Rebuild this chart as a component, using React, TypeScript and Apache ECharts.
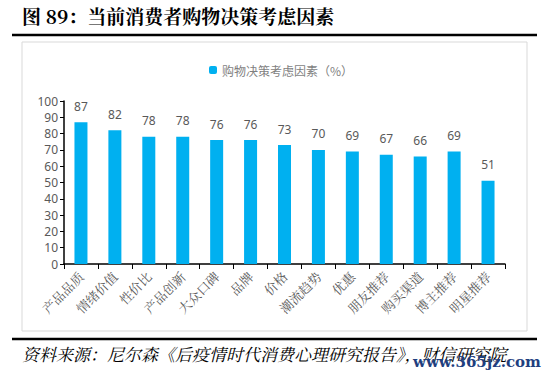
import React, { useEffect, useRef } from "react";
import * as echarts from "echarts";

const categories = ["产品品质", "情绪价值", "性价比", "产品创新", "大众口碑", "品牌", "价格", "潮流趋势", "优惠", "朋友推荐", "购买渠道", "博主推荐", "明星推荐"];
const values = [87, 82, 78, 78, 76, 76, 73, 70, 69, 67, 66, 69, 51];
const seriesName = "购物决策考虑因素（%）";
const titleText = "图 89：当前消费者购物决策考虑因素";
const sourceText = "资料来源：尼尔森《后疫情时代消费心理研究报告》，财信研究院";
const watermark = "www.365jz.com";

export default function App() {
  const ref = useRef<HTMLDivElement>(null);
  useEffect(() => {
    const chart = echarts.init(ref.current!, null, { renderer: "svg" });
    chart.setOption({
      animation: false,
      backgroundColor: "#ffffff",
      legend: {
        data: [seriesName],
        left: 204,
        top: 59,
        itemWidth: 8,
        itemHeight: 8,
        itemGap: 4,
        textStyle: { color: "#7f7f7f", fontSize: 12, fontFamily: "Noto Sans CJK SC" },
      },
      grid: { left: 64, right: 45, top: 101, bottom: 112 },
      xAxis: {
        type: "category",
        data: categories,
        axisLine: { lineStyle: { color: "#000", width: 1.5 } },
        axisTick: { show: true, length: 5, lineStyle: { color: "#000" } },
        axisLabel: { rotate: 45, color: "#595959", fontSize: 13, fontFamily: "Noto Serif CJK SC, Noto Sans CJK SC", margin: 10, interval: 0 },
      },
      yAxis: {
        type: "value",
        min: 0,
        max: 100,
        interval: 10,
        axisLine: { show: true, lineStyle: { color: "#000", width: 1.5 } },
        axisTick: { show: true, length: 4, lineStyle: { color: "#000" } },
        splitLine: { show: false },
        axisLabel: { color: "#595959", fontSize: 12, fontFamily: "Noto Sans", margin: 6 },
      },
      series: [
        {
          name: seriesName,
          type: "bar",
          data: values,
          barWidth: 13,
          itemStyle: { color: "#00B0F0" },
          label: { show: true, position: "top", color: "#595959", fontSize: 12, fontFamily: "Noto Sans", distance: 10 },
        },
      ],
      graphic: [
        { type: "text", left: 22, top: 6, style: { text: titleText, font: "bold 19px 'Noto Serif CJK SC', 'Noto Sans CJK SC', serif", fill: "#000" } },
        { type: "line", shape: { x1: 12, y1: 35, x2: 537, y2: 35 }, style: { stroke: "#000", lineWidth: 2.5 } },
        { type: "rect", shape: { x: 22, y: 42, width: 505, height: 289 }, style: { fill: "none", stroke: "#d9d9d9", lineWidth: 1 } },
        { type: "line", shape: { x1: 12, y1: 339, x2: 537, y2: 339 }, style: { stroke: "#000", lineWidth: 2.5 } },
        { type: "text", left: 22, top: 345, style: { text: sourceText, font: "italic 17px 'Noto Serif CJK SC', 'Noto Sans CJK SC', serif", fill: "#000" } },
        { type: "text", left: 413, top: 354, style: { text: watermark, font: "bold 15px 'DejaVu Serif', serif", fill: "#1f3f7f" } },
      ],
    });
    return () => chart.dispose();
  }, []);
  return <div ref={ref} style={{ position: "absolute", left: 0, top: 0, width: 550, height: 376 }} />;
}
